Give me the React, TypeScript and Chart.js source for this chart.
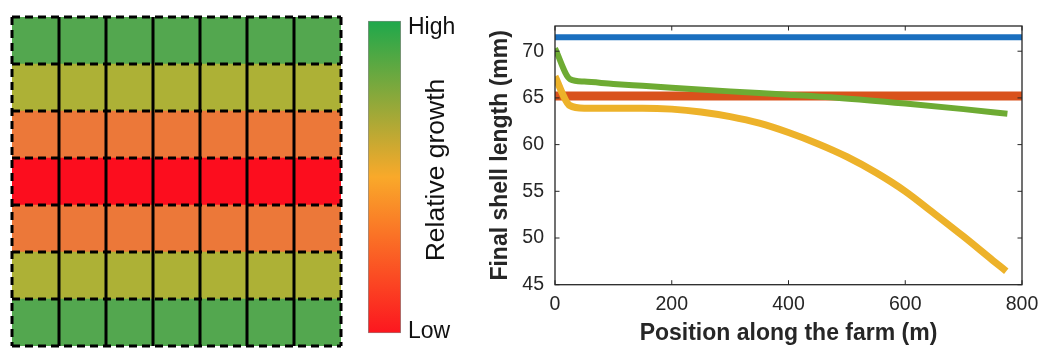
import React, { useEffect, useRef } from 'react';
import { Chart, registerables } from 'chart.js';

Chart.register(...registerables);

const FONT = "'Liberation Sans', Arial, Helvetica, sans-serif";
Chart.defaults.font.family = FONT;

// ---------- Farm grid (relative growth per row) ----------
const gridRows = ['Row 1', 'Row 2', 'Row 3', 'Row 4', 'Row 5', 'Row 6', 'Row 7'];
const gridColumns = ['Col 1', 'Col 2', 'Col 3', 'Col 4', 'Col 5', 'Col 6', 'Col 7'];
const cellUnits = [1, 1, 1, 1, 1, 1, 1];
const rowColors = ['#53a74f', '#adb136', '#ec7839', '#fc0d1e', '#ec7839', '#adb136', '#53a74f'];

// ---------- Colour bar ----------
const colorbarTickValues = [0.005, 0.977];
const colorbarTickLabels = ['Low', 'High'];
const colorbarStops = [0, 0.5, 1];
const colorbarColors = ['#fc161f', '#f9a92a', '#1ea84b'];
const colorbarTitle = 'Relative growth';

// ---------- Final shell length vs position ----------
const blueX = [0, 800];
const blueY = [71.5, 71.5];
const redX = [0, 800];
const redY = [65.2, 65.2];
const greenX = [0, 26, 50, 100, 150, 200, 300, 400, 487, 600, 700, 775];
const greenY = [70.3, 67.0, 66.75, 66.5, 66.3, 66.1, 65.7, 65.35, 65.0, 64.4, 63.8, 63.3];
const yellowX = [0, 25, 50, 100, 150, 200, 250, 300, 350, 400, 450, 500, 550, 600, 650, 700, 750, 773];
const yellowY = [67.3, 64.2, 63.9, 63.9, 63.9, 63.8, 63.5, 63.0, 62.3, 61.3, 60.1, 58.7, 57.0, 55.0, 52.6, 50.15, 47.6, 46.45];

const AXIS_COLOR = '#262626';

const toPoints = (xs: number[], ys: number[]) => xs.map((x, i) => ({ x, y: ys[i] }));

const gridLinesPlugin = {
  id: 'gridLines',
  afterDatasetsDraw(chart: any) {
    const { ctx, chartArea: a, scales } = chart;
    const x = scales.x;
    const y = scales.y;
    ctx.save();
    ctx.strokeStyle = '#000';
    ctx.lineWidth = 3;
    ctx.setLineDash([]);
    for (let i = 1; i < gridColumns.length; i++) {
      const px = x.getPixelForValue(i);
      ctx.beginPath();
      ctx.moveTo(px, a.top);
      ctx.lineTo(px, a.bottom);
      ctx.stroke();
    }
    ctx.setLineDash([8, 5]);
    for (const v of [0, gridColumns.length]) {
      const px = x.getPixelForValue(v);
      ctx.beginPath();
      ctx.moveTo(px, a.top);
      ctx.lineTo(px, a.bottom);
      ctx.stroke();
    }
    for (let i = 0; i <= gridRows.length; i++) {
      const py = y.getPixelForValue(i - 0.5);
      ctx.beginPath();
      ctx.moveTo(a.left, py);
      ctx.lineTo(a.right, py);
      ctx.stroke();
    }
    ctx.restore();
  },
};

const colorbarTitlePlugin = {
  id: 'cbTitle',
  afterDraw(chart: any) {
    const { ctx } = chart;
    ctx.save();
    ctx.translate(77, 170);
    ctx.rotate(-Math.PI / 2);
    ctx.font = `26.5px ${FONT}`;
    ctx.fillStyle = '#111';
    ctx.textAlign = 'center';
    ctx.textBaseline = 'middle';
    ctx.fillText(colorbarTitle, 0, 0);
    ctx.restore();
  },
};

const boxPlugin = {
  id: 'box',
  afterDatasetsDraw(chart: any) {
    const { ctx, chartArea: a, scales } = chart;
    ctx.save();
    ctx.strokeStyle = AXIS_COLOR;
    ctx.lineWidth = 1.3;
    ctx.strokeRect(a.left, a.top, a.right - a.left, a.bottom - a.top);
    ctx.lineWidth = 1;
    const L = 4.5;
    scales.x.ticks.forEach((t: any) => {
      const px = scales.x.getPixelForValue(t.value);
      ctx.beginPath();
      ctx.moveTo(px, a.bottom);
      ctx.lineTo(px, a.bottom - L);
      ctx.moveTo(px, a.top);
      ctx.lineTo(px, a.top + L);
      ctx.stroke();
    });
    scales.y.ticks.forEach((t: any) => {
      const py = scales.y.getPixelForValue(t.value);
      ctx.beginPath();
      ctx.moveTo(a.left, py);
      ctx.lineTo(a.left + L, py);
      ctx.moveTo(a.right, py);
      ctx.lineTo(a.right - L, py);
      ctx.stroke();
    });
    ctx.restore();
  },
};

export default function App() {
  const gridRef = useRef<HTMLCanvasElement>(null);
  const barRef = useRef<HTMLCanvasElement>(null);
  const lineRef = useRef<HTMLCanvasElement>(null);

  useEffect(() => {
    const charts: Chart[] = [];

    charts.push(
      new Chart(gridRef.current!, {
        type: 'bar',
        data: {
          labels: gridRows,
          datasets: gridColumns.map((c) => ({
            label: c,
            data: cellUnits,
            backgroundColor: rowColors,
            borderWidth: 0,
            barPercentage: 1,
            categoryPercentage: 1,
          })),
        },
        options: {
          indexAxis: 'y',
          animation: false,
          responsive: false,
          events: [],
          layout: { padding: { left: 12, top: 17, right: 14, bottom: 8 } },
          plugins: { legend: { display: false }, tooltip: { enabled: false } },
          scales: {
            x: { stacked: true, min: 0, max: 7, display: false },
            y: { stacked: true, display: false },
          },
        } as any,
        plugins: [gridLinesPlugin],
      })
    );

    charts.push(
      new Chart(barRef.current!, {
        type: 'bar',
        data: {
          labels: ['scale'],
          datasets: [
            {
              data: [[0, 1]] as any,
              backgroundColor: (c: any) => {
                const a = c.chart.chartArea;
                if (!a) return colorbarColors[1];
                const g = c.chart.ctx.createLinearGradient(0, a.bottom, 0, a.top);
                colorbarStops.forEach((s, i) => g.addColorStop(s, colorbarColors[i]));
                return g;
              },
              borderColor: '#8c8c8c',
              borderWidth: 1,
              borderSkipped: false,
              barPercentage: 1,
              categoryPercentage: 1,
            },
          ],
        },
        options: {
          animation: false,
          responsive: false,
          events: [],
          layout: { padding: { left: 8, top: 19, bottom: 6, right: 0 } },
          plugins: { legend: { display: false }, tooltip: { enabled: false } },
          scales: {
            x: { display: false },
            y: {
              position: 'right',
              min: 0,
              max: 1,
              afterBuildTicks: (s: any) => {
                s.ticks = colorbarTickValues.map((v) => ({ value: v }));
              },
              afterFit: (s: any) => {
                s.width = 59;
              },
              ticks: {
                callback: (v: any) => colorbarTickLabels[colorbarTickValues.indexOf(v)] ?? '',
                font: { size: 23 },
                color: '#111',
                padding: 7,
              },
              grid: { display: false, drawTicks: false },
              border: { display: false },
            },
          },
        } as any,
        plugins: [colorbarTitlePlugin],
      })
    );

    charts.push(
      new Chart(lineRef.current!, {
        type: 'line',
        data: {
          datasets: [
            {
              label: 'Green',
              data: toPoints(greenX, greenY),
              borderColor: '#6eab33',
              borderWidth: 6,
              cubicInterpolationMode: 'monotone',
              order: 0,
            },
            {
              label: 'Yellow',
              data: toPoints(yellowX, yellowY),
              borderColor: '#edb22a',
              borderWidth: 7,
              cubicInterpolationMode: 'monotone',
              order: 1,
            },
            {
              label: 'Red',
              data: toPoints(redX, redY),
              borderColor: '#d9521c',
              borderWidth: 9,
              borderCapStyle: 'round',
              order: 2,
            },
            {
              label: 'Blue',
              data: toPoints(blueX, blueY),
              borderColor: '#1a6fbf',
              borderWidth: 6,
              order: 3,
            },
          ] as any,
        },
        options: {
          animation: false,
          responsive: false,
          events: [],
          parsing: false,
          elements: {
            point: { radius: 0 },
            line: { tension: 0, borderJoinStyle: 'round' },
          },
          layout: { padding: { left: 0, top: 26, right: 19, bottom: 0 } },
          plugins: { legend: { display: false }, tooltip: { enabled: false } },
          scales: {
            x: {
              type: 'linear',
              min: 0,
              max: 800,
              afterFit: (s: any) => {
                s.height = 69.3;
                s.paddingLeft = 0;
                s.paddingRight = 0;
              },
              ticks: {
                stepSize: 200,
                includeBounds: false,
                maxRotation: 0,
                font: { size: 19.5 },
                color: AXIS_COLOR,
                padding: 8,
              },
              grid: { display: false, drawTicks: false },
              border: { display: false },
              title: {
                display: true,
                text: 'Position along the farm (m)',
                font: { size: 23, weight: 'bold' },
                color: AXIS_COLOR,
                padding: { top: 0, bottom: 7 },
              },
            },
            y: {
              type: 'linear',
              min: 45,
              max: 72.7,
              afterFit: (s: any) => {
                s.width = 75;
                s.paddingTop = 0;
                s.paddingBottom = 0;
              },
              ticks: {
                stepSize: 5,
                includeBounds: false,
                font: { size: 19.5 },
                color: AXIS_COLOR,
                padding: 11,
              },
              grid: { display: false, drawTicks: false },
              border: { display: false },
              title: {
                display: true,
                text: 'Final shell length (mm)',
                font: { size: 23, weight: 'bold' },
                color: AXIS_COLOR,
                padding: { top: 7, bottom: 0 },
              },
            },
          },
        } as any,
        plugins: [boxPlugin],
      })
    );

    return () => charts.forEach((c) => c.destroy());
  }, []);

  return (
    <div style={{ position: 'fixed', left: 0, top: 0, width: 1041, height: 354, background: '#fff' }}>
      <canvas ref={gridRef} width={355} height={354} style={{ position: 'absolute', left: 0, top: 0 }} />
      <canvas ref={barRef} width={100} height={354} style={{ position: 'absolute', left: 360, top: 0 }} />
      <canvas ref={lineRef} width={561} height={354} style={{ position: 'absolute', left: 480, top: 0 }} />
    </div>
  );
}
